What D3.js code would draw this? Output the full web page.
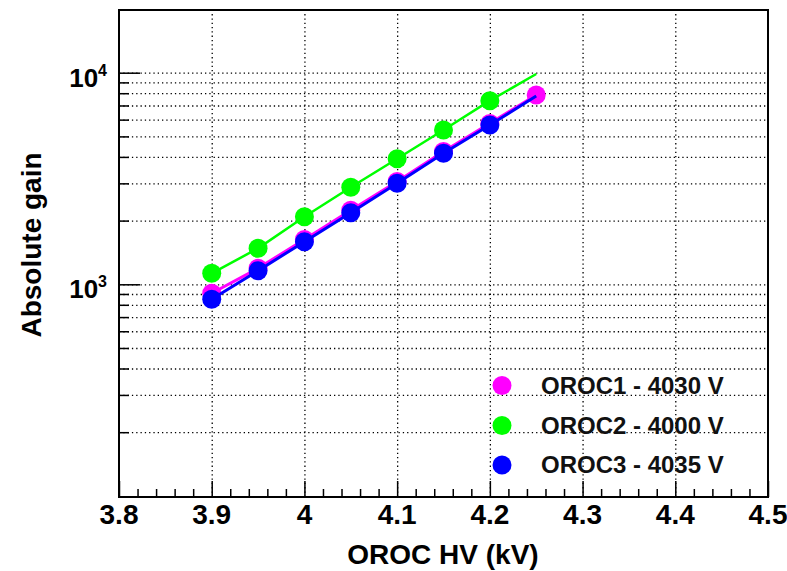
<!DOCTYPE html>
<meta charset="utf-8">
<style>
  body { margin: 0; background: #fff; }
  svg { font-family: "Liberation Sans", Arial, sans-serif; font-weight: bold; }
  .grid line { stroke: #000; stroke-width: 1.3; stroke-dasharray: 1.3,3; }
  .grid path { display: none; }
  .ticks path { display: none; }
  .ticks line { stroke: #000; stroke-width: 1.5; }
  .lbl { font-size: 28px; fill: #000; }
  .legend text { font-size: 24px; fill: #111; }
</style>
<svg width="787" height="571"></svg>
<script src="https://d3js.org/d3.v7.min.js"></script>
<script>
// HV settings (kV)
var hv = [3.9, 3.95, 4.0, 4.05, 4.1, 4.15, 4.2, 4.25];

// absolute gain for each OROC
var oroc1 = [907, 1190, 1630, 2240, 3060, 4240, 5760, 7850];
var oroc2 = [1127, 1479, 2087, 2873, 3923, 5360, 7375, 9860];
var oroc3 = [849, 1160, 1590, 2180, 3000, 4160, 5660, 7760];

var seriesNames = ["OROC1 - 4030 V", "OROC2 - 4000 V", "OROC3 - 4035 V"];
var xTicks = [3.8, 3.9, 4.0, 4.1, 4.2, 4.3, 4.4, 4.5];

var margin = {left: 119, right: 19, top: 10, bottom: 74};
var width = 787 - margin.left - margin.right;
var height = 571 - margin.top - margin.bottom;

var svg = d3.select("svg");
var g = svg.append("g").attr("transform", "translate(" + margin.left + "," + margin.top + ")");

var x = d3.scaleLinear().domain([3.8, 4.5]).range([0, width]);
var y = d3.scaleLog().domain([98.8, 19785]).range([height, 0]);

// minor ticks on the log axis: 2..9 x 10^n
var yMinor = [];
[100, 1000, 10000].forEach(function(d) {
  for (var k = 2; k <= 9; k++) if (d * k < 19785) yMinor.push(d * k);
});
var yMajor = [1000, 10000];

var xMinor = d3.range(3.8, 4.5001, 0.02).filter(function(v) {
  return Math.abs(v * 10 - Math.round(v * 10)) > 1e-6;
});

// grid
g.append("g").attr("class", "grid")
  .call(d3.axisLeft(y).tickValues(yMinor.concat(yMajor)).tickSize(-width).tickFormat(""));
g.append("g").attr("class", "grid")
  .attr("transform", "translate(0," + height + ")")
  .call(d3.axisBottom(x).tickValues(xTicks.slice(1, -1)).tickSize(-height).tickFormat(""));

// ticks inside frame
g.append("g").attr("class", "ticks")
  .attr("transform", "translate(0," + height + ")")
  .call(d3.axisBottom(x).tickValues(xTicks).tickSize(-16).tickFormat(""));
g.append("g").attr("class", "ticks")
  .attr("transform", "translate(0," + height + ")")
  .call(d3.axisBottom(x).tickValues(xMinor).tickSize(-8).tickFormat(""));
g.append("g").attr("class", "ticks")
  .call(d3.axisLeft(y).tickValues(yMajor).tickSize(-21).tickFormat(""));
g.append("g").attr("class", "ticks")
  .call(d3.axisLeft(y).tickValues(yMinor).tickSize(-10).tickFormat(""));

// tick labels
g.selectAll(".xlab").data(xTicks).enter().append("text")
  .attr("class", "lbl")
  .attr("x", function(d) { return x(d); })
  .attr("y", height + 27)
  .attr("text-anchor", "middle")
  .text(function(d) { return d3.format("")(+d.toFixed(1)); });

var ylab = g.selectAll(".ylab").data(yMajor).enter().append("text")
  .attr("class", "lbl")
  .attr("x", -12)
  .attr("y", function(d) { return y(d) + 14; })
  .attr("text-anchor", "end");
ylab.append("tspan").style("font-size", "26px").text("10");
ylab.append("tspan").attr("dy", -11).style("font-size", "16px")
  .text(function(d) { return Math.round(Math.log10(d)); });

// series
var series = [
  {name: seriesNames[0], vals: oroc1, color: "#ff00ff", lw: 3, nMark: 8},
  {name: seriesNames[1], vals: oroc2, color: "#00ff00", lw: 2.5, nMark: 7},
  {name: seriesNames[2], vals: oroc3, color: "#0000ff", lw: 3, nMark: 7}
];

var line = d3.line()
  .x(function(d) { return x(d[0]); })
  .y(function(d) { return y(d[1]); });

series.forEach(function(s) {
  var pts = hv.map(function(h, i) { return [h, s.vals[i]]; });
  g.append("path")
    .datum(pts)
    .attr("fill", "none")
    .attr("stroke", s.color)
    .attr("stroke-width", s.lw)
    .attr("d", line);
  g.selectAll(null).data(pts.slice(0, s.nMark)).enter().append("circle")
    .attr("cx", function(d) { return x(d[0]); })
    .attr("cy", function(d) { return y(d[1]); })
    .attr("r", 9.5)
    .attr("fill", s.color);
});

// frame
g.append("rect")
  .attr("width", width).attr("height", height)
  .attr("fill", "none").attr("stroke", "#000").attr("stroke-width", 2);

// legend
var legend = svg.append("g").attr("class", "legend");
var legY = [385.5, 425.5, 465];
series.forEach(function(s, i) {
  legend.append("circle").attr("cx", 502).attr("cy", legY[i]).attr("r", 9.5).attr("fill", s.color);
  legend.append("text").attr("x", 541).attr("y", legY[i] + 8).text(s.name);
});

// axis titles
svg.append("text").attr("class", "lbl")
  .attr("x", 443).attr("y", 564)
  .attr("text-anchor", "middle")
  .text("OROC HV (kV)");
svg.append("text").attr("class", "lbl")
  .attr("transform", "translate(41,245) rotate(-90)")
  .attr("text-anchor", "middle")
  .text("Absolute gain");
</script>
